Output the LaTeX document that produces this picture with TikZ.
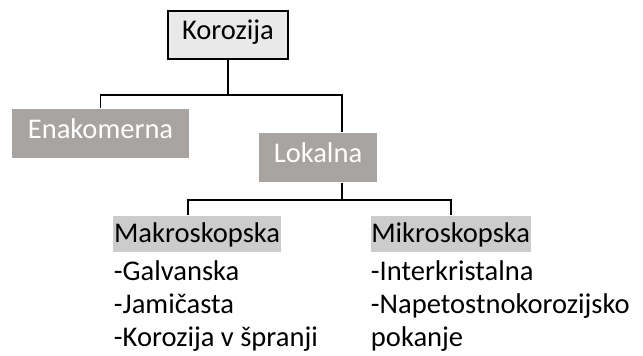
\documentclass[tikz,border=0pt]{standalone}
\usepackage{fontspec}
\setmainfont{Carlito}
\usetikzlibrary{positioning}
\definecolor{rootgray}{RGB}{233,233,233}
\definecolor{typegray}{RGB}{167,164,162}
\definecolor{headgray}{RGB}{204,204,204}
\begin{document}
\begin{tikzpicture}
[font=\fontsize{20.3}{24}\selectfont, line width=1.4pt,
rootbox/.style={rectangle, draw=black, fill=rootgray, inner sep=0pt, text height=0.66em, text depth=0pt},
typebox/.style={rectangle, fill=typegray, text=white, inner sep=0pt, text height=0.66em, text depth=0pt},
headbox/.style={rectangle, fill=headgray, anchor=base west, inner xsep=0.5pt, inner ysep=0pt, text height=0.675cm, text depth=0.225cm},
item/.style={anchor=base west, inner sep=0pt}
]
\useasboundingbox (0,0) rectangle (16.075,8.9);

\node[rootbox, minimum width=3.0cm, minimum height=1.2cm] (korozija) at (5.7,8.025) {Korozija};

\node[typebox, minimum width=4.425cm, minimum height=1.225cm] (enakomerna) at (2.5125,5.5625) {Enakomerna};
\node[typebox, minimum width=2.95cm, minimum height=1.225cm] (lokalna) at (7.95,4.9625) {Lokalna};

\coordinate (bus1) at (8.55,6.525);
\draw (korozija.south) -- (korozija.south |- bus1);
\draw (enakomerna.north) |- (bus1) -- (bus1 |- lokalna.north);

\node[headbox] (makro) at (2.81,2.825) {Makroskopska};
\node[headbox] (mikro) at (9.24,2.825) {Mikroskopska};

\coordinate (bus2) at (8.55,3.9);
\coordinate (makdrop) at (4.7,3.9);
\draw (bus1 |- lokalna.south) -- (bus2);
\draw (makdrop |- makro.north) |- (bus2) -| (mikro.north);

\node[item] (galv) at (2.825,1.89) {-Galvanska};
\node[item] (jami) at (2.825,1.06) {-Jamičasta};
\node[item] (spra) at (2.825,0.24) {-Korozija v špranji};

\node[item] (inte) at (9.25,1.89) {-Interkristalna};
\node[item] (nape) at (9.25,1.06) {-Napetostnokorozijsko};
\node[item] (poka) at (9.25,0.24) {pokanje};
\end{tikzpicture}
\end{document}
